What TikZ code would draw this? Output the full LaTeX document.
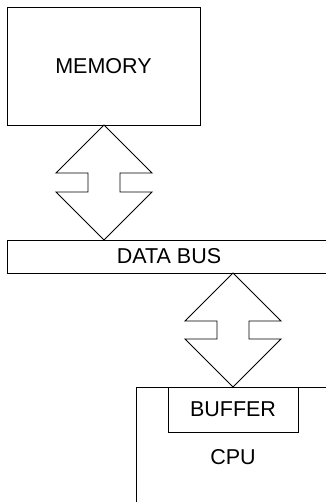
\documentclass[tikz,border=0pt]{standalone}
\usepackage{fontspec}
\setmainfont{Liberation Sans}
\begin{document}
\begin{tikzpicture}[x=1pt,y=-1pt,
  unit/.style={draw=black,line width=0.9pt,fill=white},
  lbl/.style={font=\fontsize{21.5}{24}\selectfont,inner sep=0pt},
  edge/.style={draw=black,line width=0.9pt}]
\useasboundingbox (0,0) rectangle (326,502);

% memory block
\draw[unit] (7,7) rectangle (200,125);
\node[lbl] (mem) at (103.5,66) {MEMORY};

% data bus (open to the right)
\draw[edge] (326,240) -- (7,240) -- (7,273) -- (326,273);
\node[lbl] (bus) at (169,256.5) {DATA BUS};

% CPU (open to the right and below) with its buffer
\draw[edge] (136,502) -- (136,387) -- (326,387);
\draw[edge] (168,387) -- (168,432) -- (298,432) -- (298,387);
\node[lbl] (buf) at (233,409.5) {BUFFER};
\node[lbl] (cpu) at (233,457) {CPU};

% double-headed bus arrows
\draw[edge] (104,125) -- (152,173) -- (120,173) -- (120,192) -- (152,192)
  -- (104,240) -- (56,192) -- (88,192) -- (88,173) -- (56,173) -- cycle;
\draw[edge] (233,273) -- (281,321) -- (249,321) -- (249,339) -- (281,339)
  -- (233,387) -- (185,339) -- (217,339) -- (217,321) -- (185,321) -- cycle;
\end{tikzpicture}
\end{document}
